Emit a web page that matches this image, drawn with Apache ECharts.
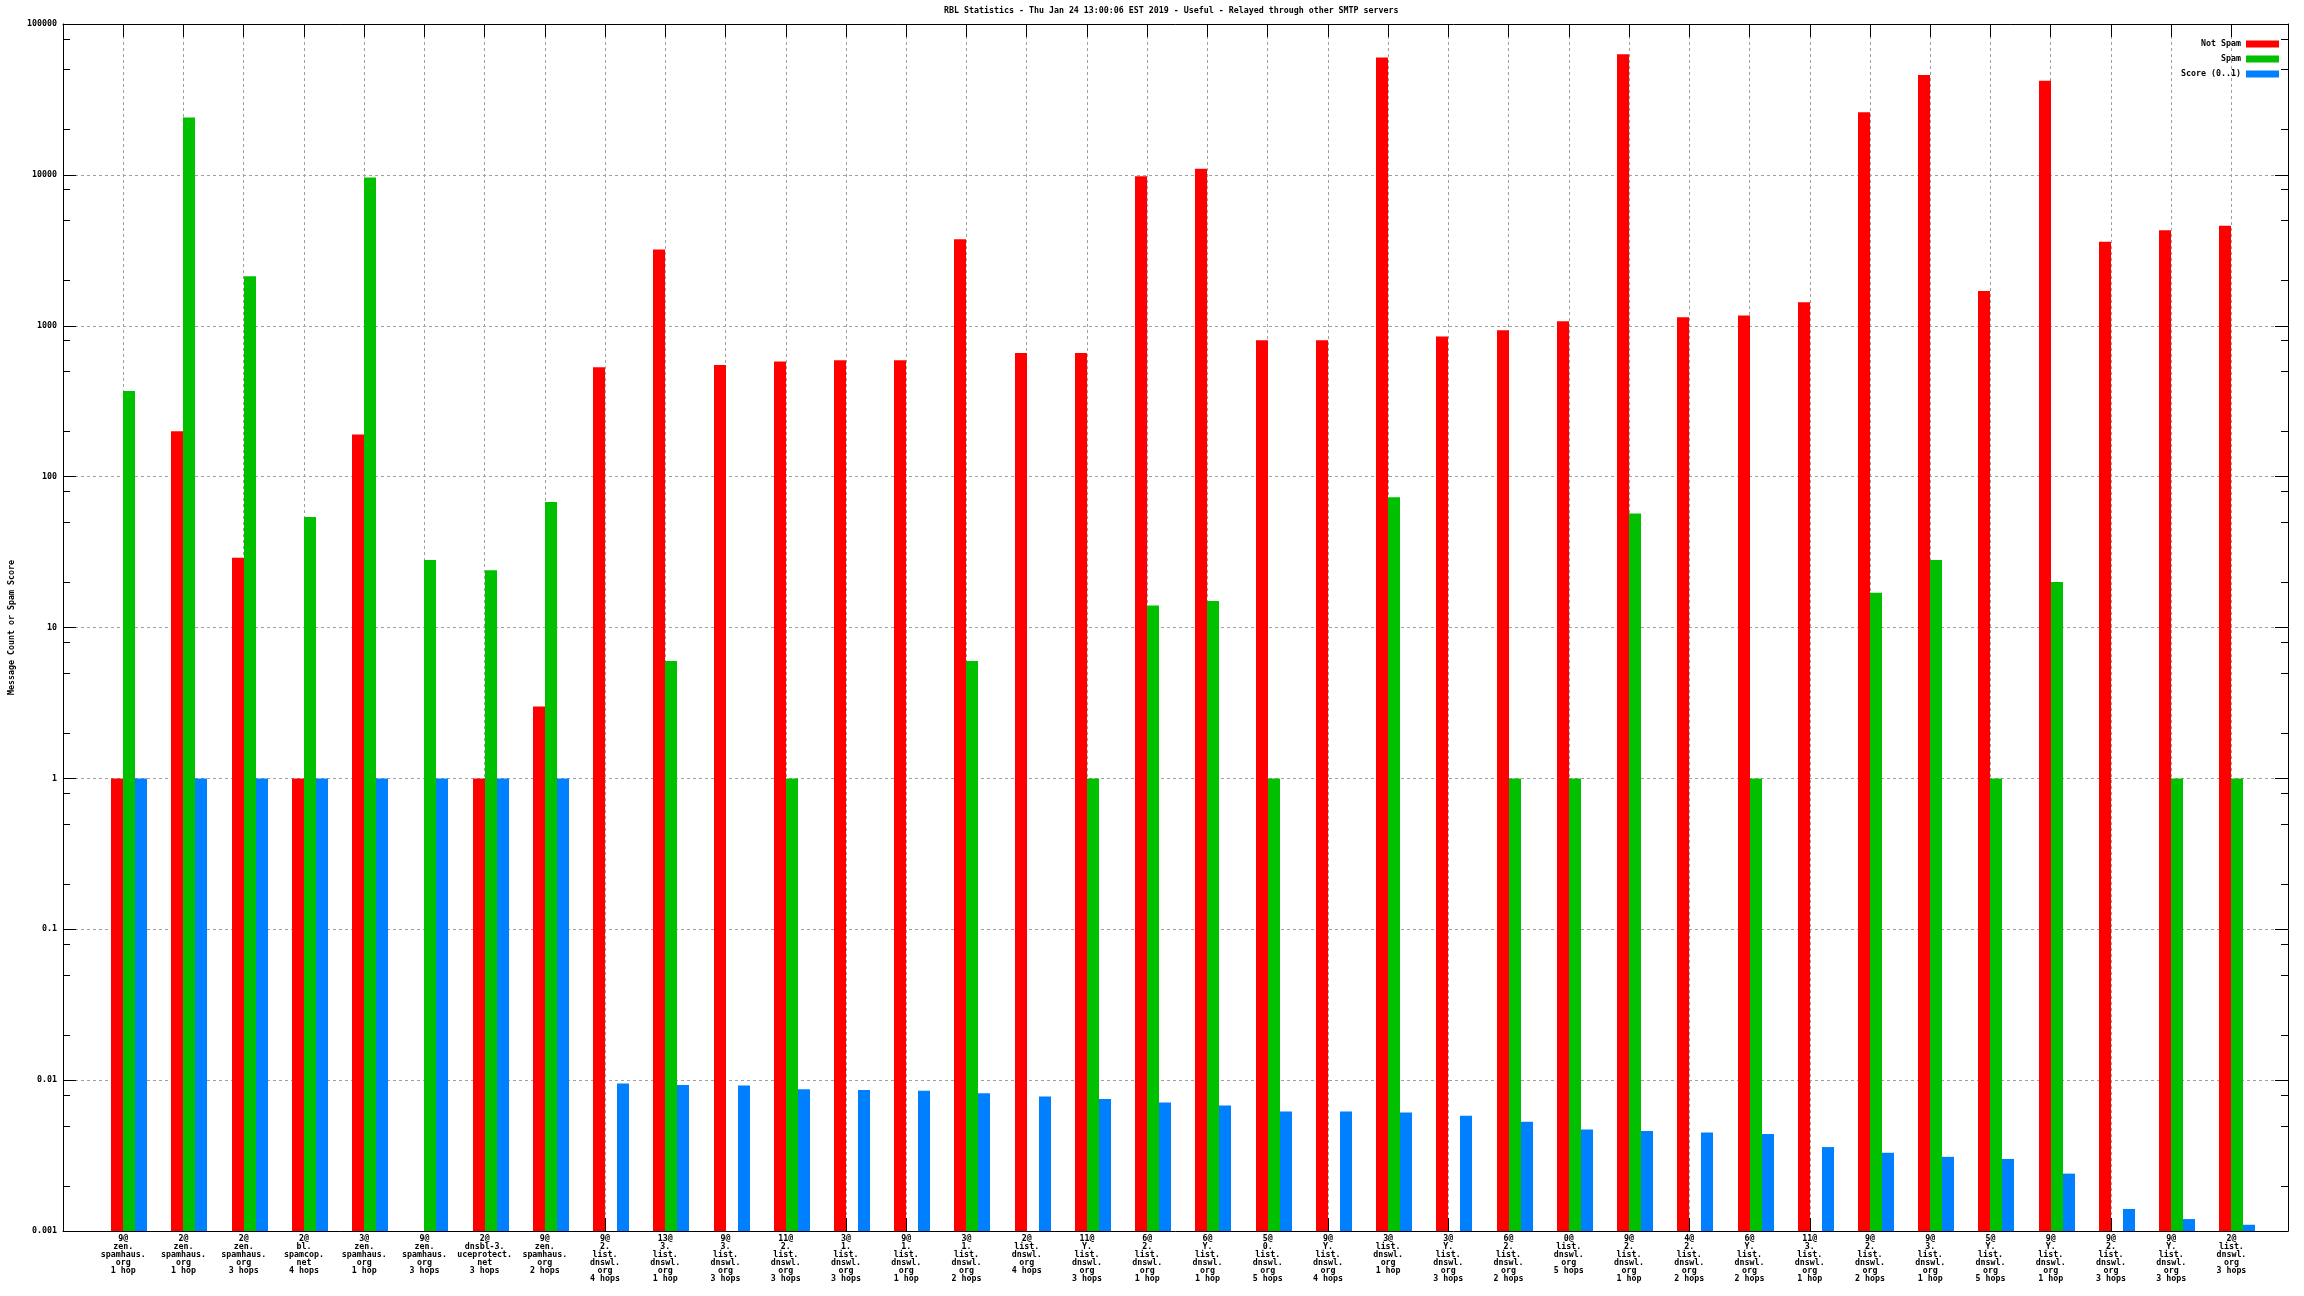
<!DOCTYPE html>
<html>
<head>
<meta charset="utf-8">
<script src="https://cdn.jsdelivr.net/npm/echarts@6/dist/echarts.min.js"></script>
<style>
html,body{margin:0;padding:0;background:#fff;}
#chart{width:2304px;height:1296px;}
</style>
</head>
<body>
<div id="chart"></div>
<script>
const titleText = "RBL Statistics - Thu Jan 24 13:00:06 EST 2019 - Useful - Relayed through other SMTP servers";
const yAxisName = "Message Count or Spam Score";
const seriesNames = ["Not Spam", "Spam", "Score (0..1)"];
const seriesColors = ["#ff0000", "#00c000", "#0080ff"];

const categories = [
  "9@\nzen.\nspamhaus.\norg\n1 hop",
  "2@\nzen.\nspamhaus.\norg\n1 hop",
  "2@\nzen.\nspamhaus.\norg\n3 hops",
  "2@\nbl.\nspamcop.\nnet\n4 hops",
  "3@\nzen.\nspamhaus.\norg\n1 hop",
  "9@\nzen.\nspamhaus.\norg\n3 hops",
  "2@\ndnsbl-3.\nuceprotect.\nnet\n3 hops",
  "9@\nzen.\nspamhaus.\norg\n2 hops",
  "9@\n2.\nlist.\ndnswl.\norg\n4 hops",
  "13@\n3.\nlist.\ndnswl.\norg\n1 hop",
  "9@\n3.\nlist.\ndnswl.\norg\n3 hops",
  "11@\n2.\nlist.\ndnswl.\norg\n3 hops",
  "3@\n1.\nlist.\ndnswl.\norg\n3 hops",
  "9@\n1.\nlist.\ndnswl.\norg\n1 hop",
  "3@\n1.\nlist.\ndnswl.\norg\n2 hops",
  "2@\nlist.\ndnswl.\norg\n4 hops",
  "11@\nY.\nlist.\ndnswl.\norg\n3 hops",
  "6@\n2.\nlist.\ndnswl.\norg\n1 hop",
  "6@\nY.\nlist.\ndnswl.\norg\n1 hop",
  "5@\n0.\nlist.\ndnswl.\norg\n5 hops",
  "9@\nY.\nlist.\ndnswl.\norg\n4 hops",
  "3@\nlist.\ndnswl.\norg\n1 hop",
  "3@\nY.\nlist.\ndnswl.\norg\n3 hops",
  "6@\n2.\nlist.\ndnswl.\norg\n2 hops",
  "0@\nlist.\ndnswl.\norg\n5 hops",
  "9@\n2.\nlist.\ndnswl.\norg\n1 hop",
  "4@\n2.\nlist.\ndnswl.\norg\n2 hops",
  "6@\nY.\nlist.\ndnswl.\norg\n2 hops",
  "11@\n3.\nlist.\ndnswl.\norg\n1 hop",
  "9@\n2.\nlist.\ndnswl.\norg\n2 hops",
  "9@\n3.\nlist.\ndnswl.\norg\n1 hop",
  "5@\nY.\nlist.\ndnswl.\norg\n5 hops",
  "9@\nY.\nlist.\ndnswl.\norg\n1 hop",
  "9@\n2.\nlist.\ndnswl.\norg\n3 hops",
  "9@\nY.\nlist.\ndnswl.\norg\n3 hops",
  "2@\nlist.\ndnswl.\norg\n3 hops"
];

const notSpam = [1, 200, 29, 1, 190, null, 1, 3, 530, 3200, 550, 580, 590, 590, 3750, 660, 660, 9800, 11000, 800, 800, 60000, 850, 935, 1070, 63000, 1140, 1170, 1430, 26000, 46000, 1700, 42000, 3600, 4300, 4600];
const spam = [370, 24000, 2130, 54, 9600, 28, 24, 68, null, 6, null, 1, null, null, 6, null, 1, 14, 15, 1, null, 73, null, 1, 1, 57, null, 1, null, 17, 28, 1, 20, null, 1, 1];
const score = [1, 1, 1, 1, 1, 1, 1, 1, 0.0095, 0.0093, 0.0092, 0.0087, 0.0086, 0.0085, 0.0082, 0.0078, 0.0075, 0.0071, 0.0068, 0.0062, 0.0062, 0.0061, 0.0058, 0.0053, 0.0047, 0.0046, 0.0045, 0.0044, 0.0036, 0.0033, 0.0031, 0.0030, 0.0024, 0.0014, 0.0012, 0.0011];

const yTickLabels = {"-3":"0.001","-2":"0.01","-1":"0.1","0":"1","1":"10","2":"100","3":"1000","4":"10000","5":"100000"};
const yMin = 0.001, yMax = 100000;
const xMin = -1, xMax = 35.94;
const minorTickValues = [0.002,0.005,0.008,0.02,0.05,0.08,0.2,0.5,0.8,2,5,8,20,50,80,200,500,800,2000,5000,8000,20000,50000,80000];

const FONT = "'DejaVu Sans Mono', 'Liberation Mono', monospace";
const FS = 8.3;

function barRenderer(offset, color) {
  return function (params, api) {
    const v = api.value(1);
    if (v == null || isNaN(v) || v <= 0) return null;
    const top = api.coord([api.value(0), v]);
    const cs = params.coordSys;
    const bottom = cs.y + cs.height;
    return {
      type: 'rect',
      shape: { x: Math.round(top[0] + offset), y: top[1], width: 12, height: bottom - top[1] },
      style: { fill: color }
    };
  };
}

function toData(arr) {
  return arr.map((v, i) => [i, v == null ? NaN : v]);
}

const barOffsets = [-12, 0, 12];
const seriesData = [notSpam, spam, score];

const series = seriesData.map((arr, k) => ({
  type: 'custom',
  name: seriesNames[k],
  xAxisIndex: 0,
  yAxisIndex: 0,
  itemStyle: { color: seriesColors[k] },
  renderItem: barRenderer(barOffsets[k], seriesColors[k]),
  data: toData(arr),
  z: 3,
  silent: true
}));

series.push({
  type: 'custom',
  name: 'minor',
  xAxisIndex: 0,
  yAxisIndex: 0,
  silent: true,
  z: 5,
  renderItem: function (params, api) {
    const p = api.coord([0, api.value(1)]);
    const cs = params.coordSys;
    const y = Math.round(p[1]) + 0.5;
    return {
      type: 'group',
      children: [
        { type: 'line', shape: { x1: cs.x, y1: y, x2: cs.x + 7, y2: y }, style: { stroke: '#000', lineWidth: 1 } },
        { type: 'line', shape: { x1: cs.x + cs.width - 7, y1: y, x2: cs.x + cs.width, y2: y }, style: { stroke: '#000', lineWidth: 1 } }
      ]
    };
  },
  data: minorTickValues.map(v => [0, v])
});

const chart = echarts.init(document.getElementById('chart'), null, { renderer: 'canvas' });

const axisLineStyle = { show: true, onZero: false, lineStyle: { color: '#000', width: 1 } };
const gridDash = { show: true, lineStyle: { color: '#a0a0a0', width: 1, type: [3, 3] } };

function xLabel(v) {
  if (Math.abs(v - Math.round(v)) > 1e-6) return '';
  const i = Math.round(v);
  return (i >= 0 && i < categories.length) ? categories[i] : '';
}

chart.setOption({
  animation: false,
  backgroundColor: '#fff',
  title: {
    text: titleText,
    left: 944,
    top: 7,
    padding: 0,
    textStyle: { fontFamily: FONT, fontSize: FS, fontWeight: 'bold', color: '#000', lineHeight: 8 }
  },
  legend: {
    data: seriesNames,
    orient: 'vertical',
    right: 25,
    top: 40,
    align: 'right',
    icon: 'rect',
    itemWidth: 33,
    itemHeight: 7,
    itemGap: 7,
    padding: 0,
    selectedMode: false,
    textStyle: { fontFamily: FONT, fontSize: FS, fontWeight: 'bold', color: '#000', lineHeight: 8 }
  },
  grid: { left: 55, right: 16, top: 24, bottom: 65, containLabel: false },
  xAxis: [
    {
      type: 'value',
      position: 'bottom',
      min: xMin,
      max: xMax,
      interval: 1,
      axisLine: axisLineStyle,
      axisTick: { show: true, inside: true, length: 13, lineStyle: { color: '#000' } },
      axisLabel: { margin: 4, fontFamily: FONT, fontSize: FS, fontWeight: 'bold', lineHeight: 8, color: '#000', align: 'center', verticalAlign: 'top', formatter: xLabel, showMinLabel: true, showMaxLabel: true, hideOverlap: false },
      splitLine: gridDash
    },
    {
      type: 'value',
      position: 'top',
      min: xMin,
      max: xMax,
      interval: 1,
      axisLine: axisLineStyle,
      axisTick: { show: true, inside: true, length: 13, lineStyle: { color: '#000' } },
      axisLabel: { show: false },
      splitLine: { show: false }
    }
  ],
  yAxis: [
    {
      type: 'log',
      logBase: 10,
      min: yMin,
      max: yMax,
      splitNumber: 8,
      position: 'left',
      name: yAxisName,
      nameLocation: 'middle',
      nameRotate: 90,
      nameGap: 47,
      nameTextStyle: { fontFamily: FONT, fontSize: FS, fontWeight: 'bold', color: '#000' },
      axisLine: axisLineStyle,
      axisTick: { show: true, inside: true, length: 13, lineStyle: { color: '#000' } },
      axisLabel: {
        margin: 6,
        fontFamily: FONT, fontSize: FS, fontWeight: 'bold', color: '#000',
        formatter: function (v) {
          const e = Math.round(Math.log10(v));
          return yTickLabels[String(e)] || String(v);
        }
      },
      splitLine: gridDash,
      minorTick: { show: false }
    },
    {
      type: 'log',
      logBase: 10,
      min: yMin,
      max: yMax,
      splitNumber: 8,
      position: 'right',
      axisLine: axisLineStyle,
      axisTick: { show: true, inside: true, length: 13, lineStyle: { color: '#000' } },
      axisLabel: { show: false },
      splitLine: { show: false }
    }
  ],
  series: series
});
</script>
</body>
</html>
